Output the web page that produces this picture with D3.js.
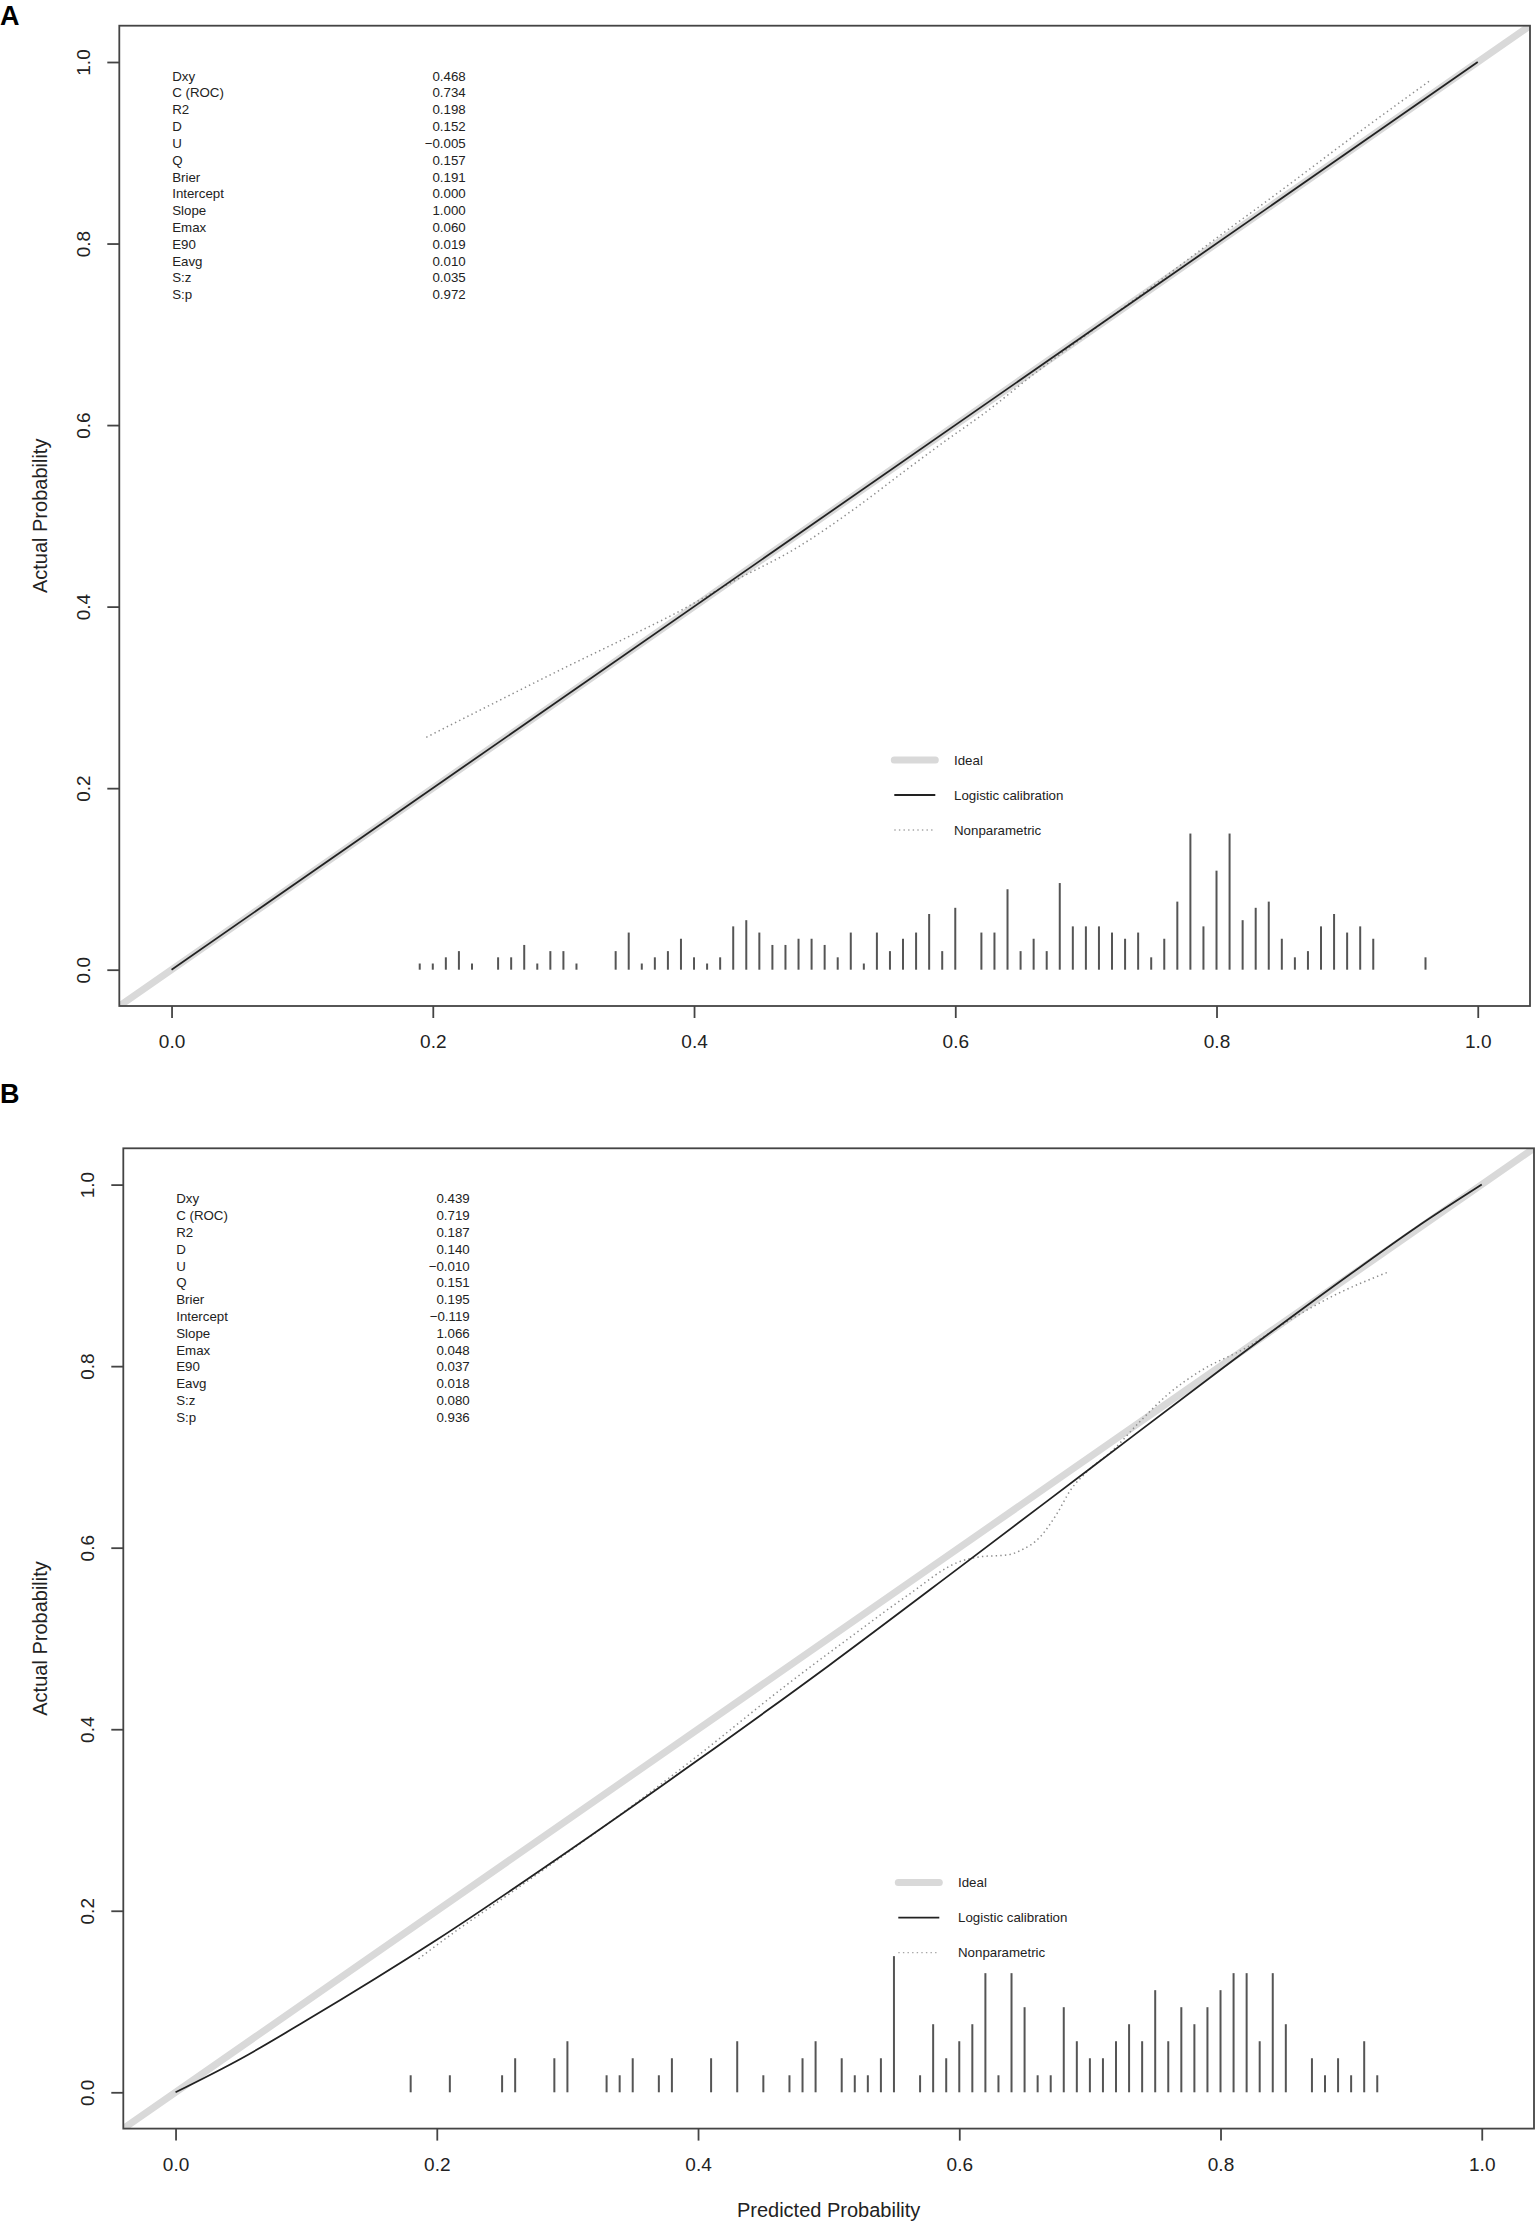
<!DOCTYPE html>
<html>
<head>
<meta charset="utf-8">
<script src="https://cdn.jsdelivr.net/npm/d3@7"></script>
<style>
  html, body { margin: 0; padding: 0; background: #fff; }
  svg { display: block; }
  text { font-family: "Liberation Sans", Arial, sans-serif; fill: #222; }
</style>
</head>
<body>
<svg id="chart" width="1535" height="2224"></svg>
<script>
// ---------------- DATA ----------------
const tickValues = [0, 0.2, 0.4, 0.6, 0.8, 1.0];

const statLabels = ["Dxy", "C (ROC)", "R2", "D", "U", "Q", "Brier", "Intercept", "Slope", "Emax", "E90", "Eavg", "S:z", "S:p"];
const statsA = ["0.468", "0.734", "0.198", "0.152", "\u22120.005", "0.157", "0.191", "0.000", "1.000", "0.060", "0.019", "0.010", "0.035", "0.972"];
const statsB = ["0.439", "0.719", "0.187", "0.140", "\u22120.010", "0.151", "0.195", "\u22120.119", "1.066", "0.048", "0.037", "0.018", "0.080", "0.936"];

const legendLabels = ["Ideal", "Logistic calibration", "Nonparametric"];

// Logistic calibration curves [predicted, actual]
const logisticA = [[0, 0], [1, 1]];
const logisticB = [[0, 0], [0.05, 0.037], [0.1, 0.079], [0.2, 0.168], [0.3, 0.265], [0.4, 0.366], [0.5, 0.470],
  [0.6, 0.578], [0.7, 0.687], [0.8, 0.796], [0.9, 0.902], [0.95, 0.953], [1, 1]];

// Nonparametric (lowess) curves [predicted, actual]
const nonparA = [[0.195, 0.256], [0.25, 0.296], [0.30, 0.332], [0.35, 0.367], [0.385, 0.392], [0.425, 0.424],
  [0.48, 0.466], [0.525, 0.510], [0.56, 0.548], [0.59, 0.580], [0.625, 0.616], [0.66, 0.656], [0.70, 0.699],
  [0.75, 0.752], [0.80, 0.806], [0.85, 0.859], [0.90, 0.913], [0.963, 0.979]];
const nonparB = [[0.186, 0.147], [0.215, 0.178], [0.25, 0.213], [0.30, 0.264], [0.35, 0.316], [0.40, 0.371],
  [0.468, 0.449], [0.52, 0.505], [0.56, 0.547], [0.601, 0.585], [0.616, 0.590], [0.637, 0.592], [0.647, 0.597],
  [0.662, 0.612], [0.675, 0.638], [0.685, 0.663], [0.698, 0.684], [0.718, 0.708], [0.739, 0.740], [0.759, 0.768],
  [0.785, 0.795], [0.8205, 0.821], [0.851, 0.849], [0.887, 0.878], [0.929, 0.904]];

// Spike histogram of predicted probabilities: bin centre and count
const binsA = [0.19, 0.20, 0.21, 0.22, 0.23, 0.25, 0.26, 0.27, 0.28, 0.29, 0.30, 0.31, 0.34, 0.35, 0.36, 0.37, 0.38, 0.39,
  0.40, 0.41, 0.42, 0.43, 0.44, 0.45, 0.46, 0.47, 0.48, 0.49, 0.50, 0.51, 0.52, 0.53, 0.54, 0.55, 0.56, 0.57, 0.58, 0.59,
  0.60, 0.62, 0.63, 0.64, 0.65, 0.66, 0.67, 0.68, 0.69, 0.70, 0.71, 0.72, 0.73, 0.74, 0.75, 0.76, 0.77, 0.78, 0.79,
  0.80, 0.81, 0.82, 0.83, 0.84, 0.85, 0.86, 0.87, 0.88, 0.89, 0.90, 0.91, 0.92, 0.96];
const countsA = [1, 1, 2, 3, 1, 2, 2, 4, 1, 3, 3, 1, 3, 6, 1, 2, 3, 5,
  2, 1, 2, 7, 8, 6, 4, 4, 5, 5, 4, 2, 6, 1, 6, 3, 5, 6, 9, 3,
  10, 6, 6, 13, 3, 5, 3, 14, 7, 7, 7, 6, 5, 6, 2, 5, 11, 22, 7,
  16, 22, 8, 10, 11, 5, 2, 3, 7, 9, 6, 7, 5, 2];
const binsB = [0.18, 0.21, 0.25, 0.26, 0.29, 0.30, 0.33, 0.34, 0.35, 0.37, 0.38, 0.41, 0.43, 0.45, 0.47, 0.48, 0.49,
  0.51, 0.52, 0.53, 0.54, 0.55, 0.57, 0.58, 0.59, 0.60, 0.61, 0.62, 0.63, 0.64, 0.65, 0.66, 0.67, 0.68, 0.69, 0.70,
  0.71, 0.72, 0.73, 0.74, 0.75, 0.76, 0.77, 0.78, 0.79, 0.80, 0.81, 0.82, 0.83, 0.84, 0.85, 0.87, 0.88, 0.89, 0.90,
  0.91, 0.92];
const countsB = [1, 1, 1, 2, 2, 3, 1, 1, 2, 1, 2, 2, 3, 1, 1, 2, 3,
  2, 1, 1, 2, 8, 1, 4, 2, 3, 4, 7, 1, 7, 5, 1, 1, 5, 3, 2,
  2, 3, 4, 3, 6, 3, 5, 4, 5, 6, 7, 7, 3, 7, 4, 2, 1, 2, 1,
  3, 1];

const spikeMaxHeight = 0.15; // tallest spike in data units

// ---------------- DRAWING ----------------
const svg = d3.select("#chart");
const domain = [-0.04, 1.04];

const panels = [
  { id: "A", box: { left: 119.3, top: 25.7, right: 1530, bottom: 1006 }, labelY: 15.5,
    stats: statsA, logistic: logisticA, nonpar: nonparA, bins: binsA, counts: countsA, xTitle: false },
  { id: "B", box: { left: 123.3, top: 1148.3, right: 1534, bottom: 2128.6 }, labelY: 1093,
    stats: statsB, logistic: logisticB, nonpar: nonparB, bins: binsB, counts: countsB, xTitle: true }
];

panels.forEach(p => {
  const b = p.box;
  const x = d3.scaleLinear().domain(domain).range([b.left, b.right]);
  const y = d3.scaleLinear().domain(domain).range([b.bottom, b.top]);
  const g = svg.append("g");

  // panel letter
  g.append("text").attr("x", 0).attr("y", p.labelY).attr("dy", "0.36em")
    .style("font-size", "27px").style("font-weight", "bold").style("fill", "#000").text(p.id);

  // clip
  const clipId = "clip" + p.id;
  svg.append("clipPath").attr("id", clipId).append("rect")
    .attr("x", b.left).attr("y", b.top).attr("width", b.right - b.left).attr("height", b.bottom - b.top);

  const line = d3.line().x(d => x(d[0])).y(d => y(d[1]));
  const smooth = d3.line().x(d => x(d[0])).y(d => y(d[1])).curve(d3.curveMonotoneX);

  const plot = g.append("g").attr("clip-path", `url(#${clipId})`);
  // Ideal
  plot.append("path").datum([[domain[0], domain[0]], [domain[1], domain[1]]])
    .attr("d", line).attr("fill", "none").attr("stroke", "#d9d9d9").attr("stroke-width", 7)
    .attr("stroke-linecap", "round");
  // Nonparametric
  plot.append("path").datum(p.nonpar).attr("d", smooth).attr("fill", "none")
    .attr("stroke", "#8c8c8c").attr("stroke-width", 1.5).attr("stroke-dasharray", "1.4,3.2");
  // Logistic calibration
  plot.append("path").datum(p.logistic).attr("d", smooth).attr("fill", "none")
    .attr("stroke", "#222").attr("stroke-width", 1.8);

  // spikes
  const h = d3.scaleLinear().domain([0, d3.max(p.counts)]).range([0, spikeMaxHeight]);
  g.append("g").selectAll("line").data(p.bins.map((v, i) => [v, p.counts[i]])).join("line")
    .attr("x1", d => x(d[0])).attr("x2", d => x(d[0]))
    .attr("y1", y(0)).attr("y2", d => y(h(d[1])))
    .attr("stroke", "#555").attr("stroke-width", 2);

  // box
  g.append("rect").attr("x", b.left).attr("y", b.top).attr("width", b.right - b.left).attr("height", b.bottom - b.top)
    .attr("fill", "none").attr("stroke", "#444").attr("stroke-width", 1.8);

  // axes
  const xAxis = d3.axisBottom(x).tickValues(tickValues).tickSize(12).tickPadding(17).tickFormat(d3.format(".1f"));
  const gx = g.append("g").attr("transform", `translate(0,${b.bottom})`).call(xAxis);
  gx.select(".domain").remove();
  gx.selectAll("line").attr("stroke", "#444").attr("stroke-width", 1.8);
  gx.selectAll("text").style("font-size", "19px").style("font-family", "'Liberation Sans', Arial, sans-serif").attr("fill", "#222");

  const yAxis = d3.axisLeft(y).tickValues(tickValues).tickSize(12).tickFormat(d3.format(".1f"));
  const gy = g.append("g").attr("transform", `translate(${b.left},0)`).call(yAxis);
  gy.select(".domain").remove();
  gy.selectAll("line").attr("stroke", "#444").attr("stroke-width", 1.8);
  gy.selectAll("text").attr("transform", "rotate(-90)").attr("x", 0).attr("y", -36).attr("dy", "0.35em")
    .attr("text-anchor", "middle").style("font-size", "19px")
    .style("font-family", "'Liberation Sans', Arial, sans-serif").attr("fill", "#222");

  // axis titles
  g.append("text").attr("transform", `translate(40,${(b.top + b.bottom) / 2}) rotate(-90)`)
    .attr("text-anchor", "middle").attr("dy", "0.35em").style("font-size", "20px").text("Actual Probability");
  if (p.xTitle) {
    g.append("text").attr("x", (b.left + b.right) / 2).attr("y", 2210).attr("dy", "0.35em")
      .attr("text-anchor", "middle").style("font-size", "20px").text("Predicted Probability");
  }

  // stats block
  const st = g.append("g");
  statLabels.forEach((lab, i) => {
    const yy = b.top + 50.3 + i * 16.82;
    st.append("text").attr("x", b.left + 52.9).attr("y", yy).attr("dy", "0.35em")
      .style("font-size", "13.3px").text(lab);
    st.append("text").attr("x", b.left + 346.4).attr("y", yy).attr("dy", "0.35em")
      .attr("text-anchor", "end").style("font-size", "13.3px").text(p.stats[i]);
  });

  // legend
  const lg = g.append("g");
  const rowsY = [734.3, 769.3, 804.3];
  const styles = [
    { stroke: "#d9d9d9", width: 7, dash: null },
    { stroke: "#222", width: 1.8, dash: null },
    { stroke: "#a6a6a6", width: 1.4, dash: "1.4,3.2" }
  ];
  legendLabels.forEach((lab, i) => {
    const yy = b.top + rowsY[i];
    const s = styles[i];
    const ln = lg.append("line").attr("x1", b.left + 775).attr("x2", b.left + 816)
      .attr("y1", yy).attr("y2", yy).attr("stroke", s.stroke).attr("stroke-width", s.width)
      .attr("stroke-linecap", i === 0 ? "round" : "butt");
    if (s.dash) ln.attr("stroke-dasharray", s.dash);
    lg.append("text").attr("x", b.left + 834.7).attr("y", yy).attr("dy", "0.35em")
      .style("font-size", "13.3px").text(lab);
  });
});
</script>
</body>
</html>
